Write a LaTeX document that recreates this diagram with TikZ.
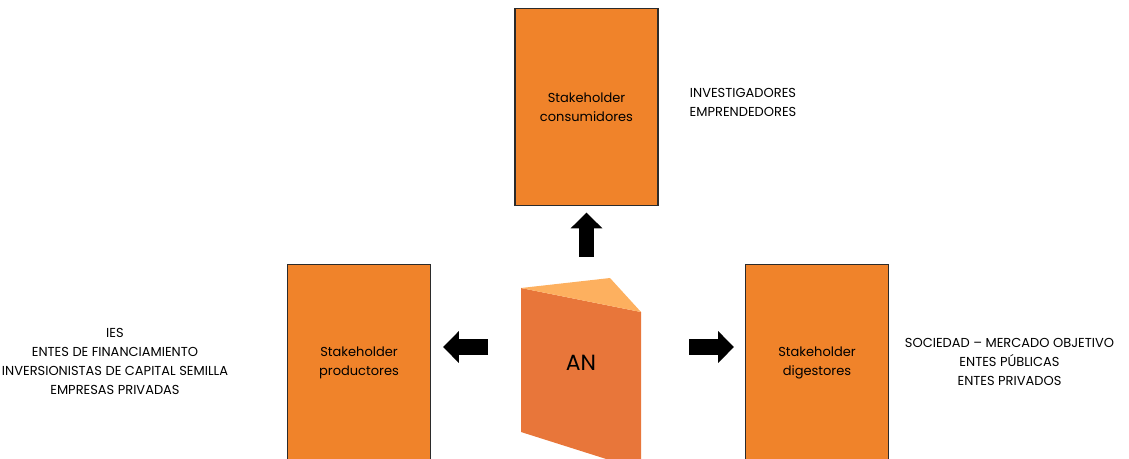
\documentclass[tikz,border=0pt]{standalone}
\usepackage{fontspec}
\setmainfont{Poppins}
\usetikzlibrary{arrows.meta, positioning, calc}
\definecolor{anorange}{HTML}{F0832A}
\definecolor{anfront}{HTML}{E8763A}
\definecolor{antop}{HTML}{FDB05F}
\definecolor{anborder}{HTML}{2B2B2B}
\begin{document}
\begin{tikzpicture}[
  x=0.02cm, y=-0.02cm,
  every node/.style={font=\fontsize{7.4}{10.8}\selectfont},
  stakebox/.style={rectangle, draw=anborder, line width=0.6pt, fill=anorange, minimum width=2.86cm, minimum height=3.94cm, align=center, inner sep=0pt},
  grouptext/.style={align=center, text=black},
  blockarrow/.style={line width=9pt, -{Triangle[length=9pt, width=17.5pt]}},
]
\useasboundingbox (0,0) rectangle (1129,458);
\clip (0,0) rectangle (1129,458);

% stakeholder boxes
\node[stakebox] (cons) at (586.5, 107) {Stakeholder\\consumidores};
\node[stakebox] (prod) at (359, 363) {Stakeholder\\productores};
\node[stakebox] (dig) at (817, 363) {Stakeholder\\digestores};

% groups per stakeholder
\node[grouptext] (consgrp) at (743, 102) {INVESTIGADORES\\EMPRENDEDORES};
\node[grouptext] (prodgrp) at (115, 361.5) {IES\\ENTES DE FINANCIAMIENTO\\INVERSIONISTAS DE CAPITAL SEMILLA\\EMPRESAS PRIVADAS};
\node[grouptext] (diggrp) at (1009.5, 362) {SOCIEDAD -- MERCADO OBJETIVO\\ENTES PÚBLICAS\\ENTES PRIVADOS};

% prism
\fill[anfront] (521,288) -- (641,312) -- (641,470) -- (521,432) -- cycle;
\fill[antop] (521,288) -- (610,278) -- (641,312) -- cycle;
\node[font=\fontsize{12.5}{15}\selectfont] (an) at (581, 363) {AN};

% arrows
\coordinate (upfoot) at (586.5, 256.5);
\coordinate (leftfoot) at (488, 347);
\coordinate (rightfoot) at (689, 347);
\draw[blockarrow, shorten >=0.13cm] (upfoot) -- (cons.south);
\draw[blockarrow, shorten >=0.24cm] (leftfoot) -- (leftfoot -| prod.east);
\draw[blockarrow, shorten >=0.22cm] (rightfoot) -- (rightfoot -| dig.west);
\end{tikzpicture}
\end{document}
